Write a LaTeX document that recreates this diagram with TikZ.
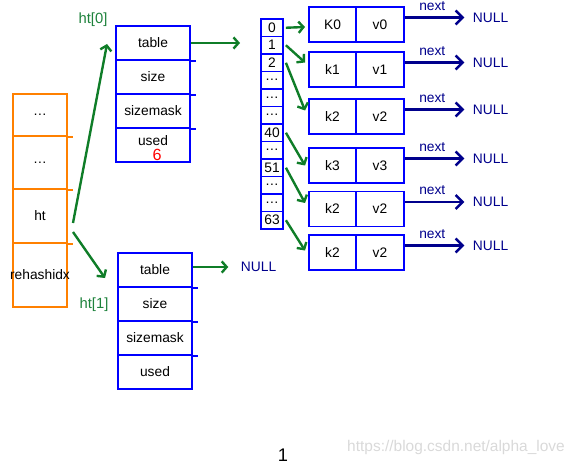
\documentclass[tikz,border=0pt]{standalone}
\usepackage{fontspec}
\setmainfont{Liberation Sans}
\usepackage{xcolor}
\definecolor{boxblue}{RGB}{0,0,255}
\definecolor{dictorange}{RGB}{255,128,0}
\definecolor{ptrgreen}{RGB}{15,125,40}
\definecolor{lblgreen}{RGB}{30,130,60}
\definecolor{navy}{RGB}{0,0,140}
\usetikzlibrary{arrows.meta}
\usetikzlibrary{positioning}
\usetikzlibrary{calc}

\begin{document}
\begin{tikzpicture}[x=0.025cm, y=-0.025cm,
	every node/.style={font=\fontsize{9.8}{11}\selectfont},
	slot/.style={draw=dictorange, line width=1.4pt, minimum width=1.35cm, inner sep=0pt},
	field/.style={draw=boxblue, line width=1.4pt, minimum width=1.85cm, minimum height=0.85cm, inner sep=0pt},
	bucket/.style={draw=boxblue, line width=1.3pt, minimum width=0.55cm, minimum height=0.4375cm, inner sep=0pt},
	entry/.style={draw=boxblue, line width=1.4pt, minimum height=0.875cm, inner sep=0pt},
	ptr/.style={draw=ptrgreen, line width=1.7pt, -{Straight Barb[length=3.5pt,width=8pt]}},
	nextptr/.style={draw=navy, line width=1.8pt, -{Straight Barb[length=5pt,width=10pt]}, shorten >=2.5pt},
	nulltxt/.style={text=navy, anchor=west}]
	\useasboundingbox (0,0) rectangle (578,466);

	% dict struct
	\node[slot, minimum height=1.05cm, label={center:\ldots}] (s0) at (40,115) {};
	\node[slot, minimum height=1.325cm, label={center:\ldots}] (s1) at (40,162.5) {};
	\node[slot, minimum height=1.35cm, label={center:ht}] (ht) at (40,216) {};
	\node[slot, minimum height=1.6cm, label={center:rehashidx}] (rehash) at (40,275) {};
	\foreach \s in {s0,s1,ht}
		\draw[dictorange, line width=1.4pt] (\s.south east) -- ++(5,0);

	% ht[0]
	\node[text=lblgreen, font=\fontsize{10.5}{12}\selectfont] (lbl0) at (93,20) {ht[0]};
	\node[field] (t0table) at (153,43) {table};
	\node[field] (t0size) at (153,77) {size};
	\node[field] (t0mask) at (153,111) {sizemask};
	\node[field] (t0used) at (153,145) {};
	\node (used0) at (153,141) {used};
	\node[text=red, font=\fontsize{11.5}{13}\selectfont] (cnt0) at (157,155) {6};

	% ht[1]
	\node[text=lblgreen, font=\fontsize{10.5}{12}\selectfont] (lbl1) at (94,305) {ht[1]};
	\node[field] (t1table) at (155,270) {table};
	\node[field] (t1size) at (155,304) {size};
	\node[field] (t1mask) at (155,338) {sizemask};
	\node[field] (t1used) at (155,372) {used};
	\foreach \f in {t0table,t0size,t0mask,t1table,t1size,t1mask}
		\draw[boxblue, line width=1.4pt] (\f.south east) -- ++(5,0);

	\draw[ptr] ($(ht.east)+(5,7)$) -- ($(t0table.west)+(-8,1)$);
	\draw[ptr] ($(ht.east)+(5,16)$) -- ($(t1table.west)+(-12,8)$);

	\coordinate (tabptr) at (240,43);
	\draw[ptr] (t0table.east) -- (tabptr);
	\node[nulltxt] (null1) at (236,267) {NULL};
	\draw[ptr, shorten >=5.5pt] (t1table.east |- null1.west) -- (null1.west);

	% buckets
	\foreach \lbl [count=\i from 0] in {0,1,2,\ldots,\ldots,\ldots,40,\ldots,51,\ldots,\ldots,63}
		\node[bucket] (a\i) at (272,{27.75+17.5*\i}) {\lbl};

	% entries
	\foreach \y/\key/\val [count=\i from 0] in {24.5/K0/v0,69.5/k1/v1,116.5/k2/v2,165.5/k3/v3,209/k2/v2,252.5/k2/v2}{
		\node[entry, minimum width=1.175cm] (k\i) at (332.5,\y) {\key};
		\node[entry, minimum width=1.2cm] (v\i) at (380,\y) {\val};
		\node[nulltxt] (n\i) at ($(v\i.east)+(63,-7)$) {NULL};
		\draw[nextptr] (v\i.east |- n\i.west) -- (n\i.west) node[midway, above=1pt, text=navy, xshift=-3pt] {next};
	}
	\foreach \a/\e/\dy in {0/0/2.5, 1/1/-7, 2/2/-6, 6/3/0, 8/4/-6, 11/5/-2}
		\draw[ptr] ($(a\a.east)+(2,0)$) -- ($(k\e.west)+(-3,\dy)$);

	\node[font=\fontsize{13}{15}\selectfont] (fig) at (283,455) {1};
	\node[text=black!15, font=\fontsize{11}{13}\selectfont] (mark) at (456,447) {https://blog.csdn.net/alpha\_love};
\end{tikzpicture}
\end{document}
